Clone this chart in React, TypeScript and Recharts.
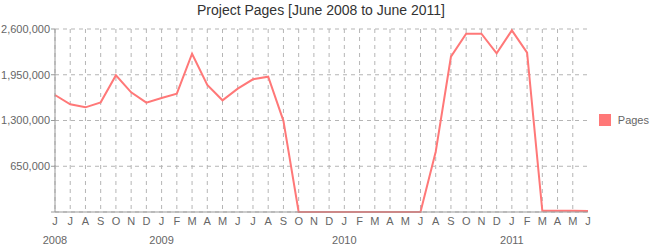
import React from "react";
import { CartesianGrid, Legend, Line, LineChart, XAxis, YAxis } from "recharts";

// one label per month, June 2008 -> June 2011 (July 2010 is absent in the source)
const months = [
  "J", "J", "A", "S", "O", "N", "D",
  "J", "F", "M", "A", "M", "J", "J", "A", "S", "O", "N", "D",
  "J", "F", "M", "A", "M", "J", "A", "S", "O", "N", "D",
  "J", "F", "M", "A", "M", "J",
];

const yearLabels: Record<number, string> = { 0: "2008", 7: "2009", 19: "2010", 30: "2011" };

const pages = [
  1662000, 1530000, 1487000, 1558000, 1942000, 1700000, 1553000,
  1620000, 1681000, 2249000, 1804000, 1587000, 1752000, 1885000, 1923000, 1295000, 0, 0, 0,
  0, 0, 0, 0, 0, 0, 857000, 2206000, 2533000, 2533000, 2254000,
  2581000, 2264000, 18000, 17000, 17000, 14000,
];

const yTicks = [0, 650000, 1300000, 1950000, 2600000];

const LINE_COLOR = "#ff7878";
const FONT = "'Liberation Sans', Arial, sans-serif";

const data = months.map((m, i) => ({ month: m, pages: pages[i] }));

// vertical grid at every month except the last one
const verticalLines = ({ offset }: any) =>
  months.slice(0, -1).map((_, i) => offset.left + (i * offset.width) / (months.length - 1));

const MonthTick = (props: any) => {
  const { x, y, index, payload } = props;
  const year = yearLabels[index];
  return (
    <g>
      <text x={x} y={y + 13} textAnchor="middle" fill="#666" fontSize={11} fontFamily={FONT}>
        {payload.value}
      </text>
      {year ? (
        <text x={x} y={y + 32} textAnchor="middle" fill="#666" fontSize={11} fontFamily={FONT}>
          {year}
        </text>
      ) : null}
    </g>
  );
};

const LegendContent = () => (
  <div style={{ display: "flex", alignItems: "center", fontFamily: FONT, fontSize: 11, color: "#666" }}>
    <span style={{ width: 12, height: 12, background: LINE_COLOR, display: "inline-block", marginRight: 7 }} />
    Pages
  </div>
);

export default function App() {
  return (
    <div style={{ position: "absolute", left: 0, top: 0, width: 650, height: 250, background: "#fff" }}>
      <div
        style={{
          position: "absolute",
          left: 0,
          top: 2,
          width: 642,
          textAlign: "center",
          fontFamily: FONT,
          fontSize: 14,
          color: "#333",
        }}
      >
        Project Pages [June 2008 to June 2011]
      </div>
      <LineChart width={650} height={250} data={data} margin={{ top: 29, right: 62, bottom: 0, left: 0 }}>
        <CartesianGrid stroke="#b5b5b5" strokeDasharray="4 4" verticalCoordinatesGenerator={verticalLines} />
        <XAxis
          dataKey="month"
          interval={0}
          height={38}
          tickSize={0}
          tickMargin={0}
          tickLine={false}
          stroke="#999"
          tick={<MonthTick />}
        />
        <YAxis
          width={55}
          domain={[0, 2600000]}
          ticks={yTicks}
          interval={0}
          tickSize={4}
          tickMargin={1}
          stroke="#999"
          tick={{ fill: "#666", fontSize: 11, fontFamily: FONT }}
          tickFormatter={(v: number) => (v === 0 ? "" : v.toLocaleString("en-US"))}
        />
        <Legend
          layout="vertical"
          align="center"
          verticalAlign="middle"
          content={<LegendContent />}
          wrapperStyle={{ left: 599, top: 114, width: 50, height: 14 }}
        />
        <Line
          type="linear"
          dataKey="pages"
          stroke={LINE_COLOR}
          strokeWidth={2}
          dot={false}
          activeDot={false}
          isAnimationActive={false}
        />
      </LineChart>
    </div>
  );
}
